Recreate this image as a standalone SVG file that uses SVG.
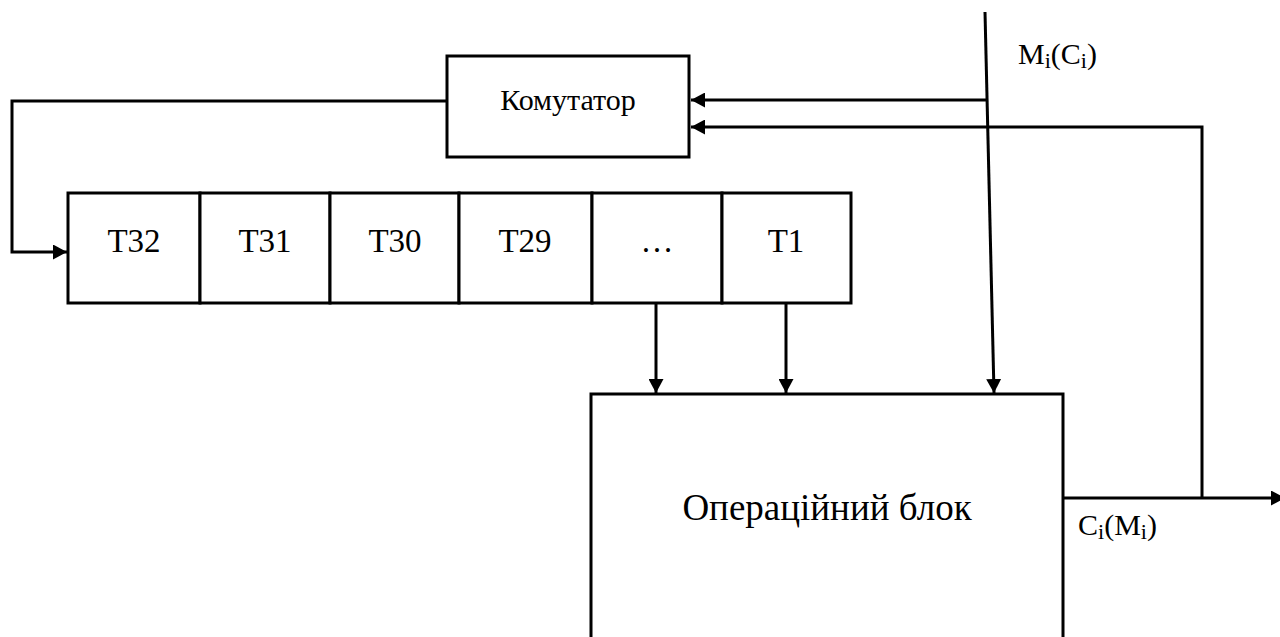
<svg xmlns="http://www.w3.org/2000/svg" width="1280" height="637" viewBox="0 0 1280 637">
  <style>
    .box { fill: #ffffff; stroke: #000000; stroke-width: 3; }
    .wire { fill: none; stroke: #000000; stroke-width: 3; }
    .lbl { font-family: "Liberation Serif", "Times New Roman", serif; fill: #000000; }
    .cell { font-size: 33px; text-anchor: middle; }
    .sig { font-size: 30px; }
    .sub { font-size: 22px; }
  </style>
  <defs>
    <marker id="arrow" markerUnits="userSpaceOnUse" markerWidth="15" markerHeight="15" refX="14" refY="7.5" orient="auto">
      <path d="M0,0 L14,7.5 L0,15 Z" fill="#000000"/>
    </marker>
  </defs>
  <rect width="1280" height="637" fill="#ffffff"/>

  <g id="connectors">
    <polyline class="wire" points="447,101 12,101 12,252 67,252" marker-end="url(#arrow)"/>
    <polyline class="wire" points="986,100 691,100" marker-end="url(#arrow)"/>
    <polyline class="wire" points="1202,498 1202,127 691,127" marker-end="url(#arrow)"/>
    <line class="wire" x1="985" y1="12" x2="994" y2="393" marker-end="url(#arrow)"/>
    <line class="wire" x1="656" y1="304" x2="656" y2="393" marker-end="url(#arrow)"/>
    <line class="wire" x1="786" y1="304" x2="786" y2="393" marker-end="url(#arrow)"/>
    <line class="wire" x1="1063" y1="498" x2="1285" y2="498" marker-end="url(#arrow)"/>
  </g>

  <g id="komutator">
    <rect class="box" x="447" y="56" width="242" height="101"/>
    <text class="lbl" x="568" y="110" font-size="30" text-anchor="middle">Комутатор</text>
  </g>

  <g id="register">
    <rect class="box" x="68" y="193" width="132" height="110"/>
    <rect class="box" x="200" y="193" width="130" height="110"/>
    <rect class="box" x="330" y="193" width="129" height="110"/>
    <rect class="box" x="459" y="193" width="133" height="110"/>
    <rect class="box" x="592" y="193" width="130" height="110"/>
    <rect class="box" x="722" y="193" width="129" height="110"/>
    <text class="lbl cell" x="134" y="252">T32</text>
    <text class="lbl cell" x="265" y="252">T31</text>
    <text class="lbl cell" x="395" y="252">T30</text>
    <text class="lbl cell" x="525" y="252">T29</text>
    <text class="lbl cell" x="657" y="252">…</text>
    <text class="lbl cell" x="786" y="252">T1</text>
  </g>

  <g id="operational-block">
    <path class="wire" d="M591,660 V394 H1063 V660"/>
    <text class="lbl" x="827" y="520" font-size="37" text-anchor="middle">Операційний блок</text>
  </g>

  <g id="label-input">
    <text class="lbl sig" x="1018" y="64">M<tspan class="sub" dy="4">i</tspan><tspan dy="-4">(C</tspan><tspan class="sub" dy="4">i</tspan><tspan dy="-4">)</tspan></text>
  </g>

  <g id="label-output">
    <text class="lbl sig" x="1078" y="535">C<tspan class="sub" dy="4">i</tspan><tspan dy="-4">(M</tspan><tspan class="sub" dy="4">i</tspan><tspan dy="-4">)</tspan></text>
  </g>
</svg>
